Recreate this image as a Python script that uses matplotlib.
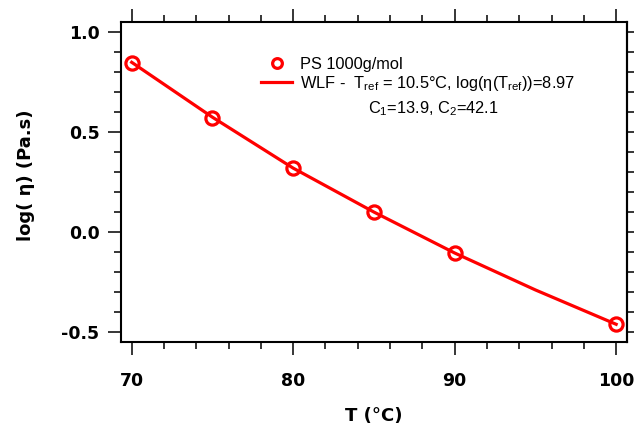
import matplotlib
matplotlib.use('Agg')
import matplotlib.pyplot as plt
from matplotlib.lines import Line2D
from matplotlib.ticker import MultipleLocator, FormatStrFormatter

# measured viscosity, PS 1000 g/mol
temp = [70, 75, 80, 85, 90, 100]
log_eta = [0.845, 0.573, 0.32, 0.10, -0.105, -0.46]

# WLF fit line
temp_fit = [70, 75, 80, 85, 90, 95, 100]
log_eta_fit = [0.85, 0.575, 0.32, 0.10, -0.105, -0.29, -0.462]

x_ticks = [70, 80, 90, 100]
y_ticks = [-0.5, 0.0, 0.5, 1.0]

plt.rcParams['axes.unicode_minus'] = False
plt.rcParams['mathtext.fontset'] = 'custom'
plt.rcParams['mathtext.rm'] = 'Liberation Sans'
plt.rcParams['mathtext.it'] = 'Liberation Sans:italic'
plt.rcParams['mathtext.bf'] = 'Liberation Sans:bold'

red = '#ff0000'

fig = plt.figure(figsize=(6.37, 4.30), dpi=100)
ax = fig.add_axes([0.190, 0.205, 0.794, 0.743])

# Fit line first, markers on top.
ax.plot(temp_fit, log_eta_fit, color=red, lw=2.3, zorder=2)
ax.plot(temp, log_eta, ls='none', marker='o', ms=9.5, mew=2.3,
        mfc='none', mec=red, zorder=3)

ax.set_xlim(69.34, 100.66)
ax.set_ylim(-0.55, 1.05)

ax.set_xticks(x_ticks)
ax.set_yticks(y_ticks)
ax.xaxis.set_minor_locator(MultipleLocator(2))
ax.yaxis.set_minor_locator(MultipleLocator(0.1))
ax.yaxis.set_major_formatter(FormatStrFormatter('%.1f'))

for s in ax.spines.values():
    s.set_linewidth(1.5)

ax.tick_params(which='both', direction='out', width=1.1, top=True,
               right=False, labelsize=12.5, colors='black')
ax.tick_params(which='major', length=9.5)
ax.tick_params(which='minor', length=5)
ax.tick_params(axis='x', which='major', pad=12.5)
ax.tick_params(axis='y', which='major', pad=6)
for lab in ax.get_xticklabels() + ax.get_yticklabels():
    lab.set_fontweight('bold')

# right side: every tick short
sec = ax.secondary_yaxis('right')
sec.yaxis.set_major_locator(MultipleLocator(0.1))
sec.tick_params(direction='out', length=5, width=1.1, labelright=False)
sec.spines['right'].set_linewidth(1.5)

ax.set_xlabel('T (°C)', fontsize=13, fontweight='bold')
ax.set_ylabel('log( η) (Pa.s)', fontsize=13, fontweight='bold')
ax.xaxis.set_label_coords(0.5, -0.205)
ax.yaxis.set_label_coords(-0.17, 0.522)

handles = [
    Line2D([], [], ls='none', marker='o', ms=7, mew=2.3, mfc='none', mec=red),
    Line2D([], [], color=red, lw=2.3),
]
labels = [
    'PS 1000g/mol',
    r'WLF -  T$_{\mathrm{ref}}$ = 10.5°C, log(η(T$_{\mathrm{ref}}$))=8.97',
]
ax.legend(handles, labels, loc='upper left', bbox_to_anchor=(0.277, 0.893),
          frameon=False, borderpad=0, borderaxespad=0, handlelength=1.9,
          handletextpad=0.5, labelspacing=0.15,
          prop={'family': 'Liberation Sans', 'size': 11.8})
ax.text(0.488, 0.73, r'C$_1$=13.9, C$_2$=42.1', transform=ax.transAxes,
        va='center', ha='left', family='Liberation Sans', fontsize=11.8)

fig.savefig('out.png', dpi=100)
